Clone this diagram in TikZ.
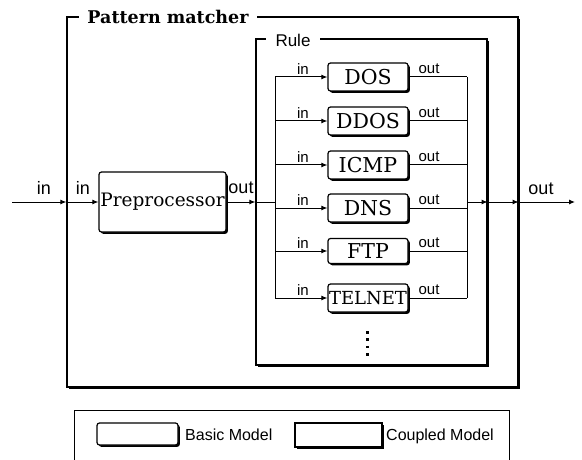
\documentclass[tikz,border=0pt]{standalone}
\usepackage{fontspec}
\setmainfont{DejaVu Serif}
\newfontfamily\portfont{Liberation Sans}
\usetikzlibrary{arrows.meta,shadows}

\begin{document}
\begin{tikzpicture}[x=1pt,y=-1pt,
  ink/.style={line width=1.2pt},
  shadowed/.style={drop shadow={shadow xshift=1.8pt,shadow yshift=-1.8pt,opacity=1,fill=black}},
  atomic/.style={draw, ink, fill=white, shadowed, rounded corners=2.5pt,
    minimum width=80pt, minimum height=28pt, inner sep=0pt,
    font=\fontsize{20.5}{20.5}\selectfont},
  coupled/.style={draw, ink, fill=white, shadowed, inner sep=0pt},
  heading/.style={fill=white, inner xsep=9pt, inner ysep=2pt},
  port/.style={font=\portfont\fontsize{15}{15}\selectfont, inner sep=0pt},
  bigport/.style={font=\portfont\fontsize{18}{18}\selectfont, inner sep=0pt},
  legendtext/.style={font=\portfont\fontsize{16}{16}\selectfont, inner sep=0pt, anchor=west},
  wire/.style={line width=1pt},
  flow/.style={wire, -{Latex[length=6pt,width=5pt]}},
]
\useasboundingbox (0,0) rectangle (582,460);

% coupled model: pattern matcher
\node[coupled, minimum width=451pt, minimum height=370pt] (pm) at (292.5,202) {};
\node[heading, font=\bfseries\fontsize{17.5}{17.5}\selectfont, inner xsep=8pt] (pmtitle) at (168,17) {Pattern matcher};

% coupled model: rule set
\node[coupled, minimum width=231pt, minimum height=326pt] (rule) at (371.5,202) {};
\node[heading, font=\portfont\fontsize{17}{17}\selectfont, inner xsep=10pt] (ruletitle) at (293,40) {Rule};

% basic models
\node[atomic, minimum width=127pt, minimum height=60pt, font=\fontsize{18.5}{18.5}\selectfont] (pre) at (162.5,202) {Preprocessor};
\node[atomic] (dos)    at (368,77)  {DOS};
\node[atomic] (ddos)   at (368,121) {DDOS};
\node[atomic] (icmp)   at (368,165) {ICMP};
\node[atomic] (dns)    at (368,208) {DNS};
\node[atomic, minimum height=25pt] (ftp) at (368,251) {FTP};
\node[atomic, font=\fontsize{18}{18}\selectfont] (telnet) at (368,298) {TELNET};

% more rules
\foreach \k in {0,...,3}
  \fill (366,331+7.3*\k) rectangle ++(2.8,2.8);

% external couplings and buses
\coordinate (src) at (12,202);
\coordinate (snk) at (575,202);
\coordinate (ib) at (275,202);
\coordinate (ob) at (467,202);

\draw[flow] (src) -- (pm.west);
\draw[flow] (pm.west) -- (pre.west);
\draw[flow] (pre.east) -- (rule.west);
\draw[wire] (rule.west) -- (ib);
\draw[wire] (dos.west -| ib) -- (telnet.west -| ib);
\draw[wire] (dos.east -| ob) -- (telnet.east -| ob);
\foreach \b in {dos,ddos,icmp,dns,ftp,telnet}{
  \draw[flow] (\b.west -| ib) -- (\b.west);
  \draw[wire] (\b.east) -- (\b.east -| ob);
}
\draw[flow] (ob) -- (rule.east);
\draw[flow] (rule.east) -- (pm.east);
\draw[flow] (pm.east) -- (snk);

% port labels
\node[bigport] (pmin)   at (44,188)  {in};
\node[bigport] (prein)  at (83,188)  {in};
\node[bigport] (preout) at (241,188) {out};
\node[bigport] (pmout)  at (541,189) {out};
\foreach \b/\y in {dos/77,ddos/121,icmp/165,dns/208,ftp/251,telnet/298}{
  \node[port] (\b in)  at (303,\y-8) {in};
  \node[port] (\b out) at (429,\y-8) {out};
}

% legend
\draw[wire] (74,460) -- (74,410) -- (509,410) -- (509,460);
\node[atomic, minimum width=81pt, minimum height=22pt] (keybasic) at (137.5,434) {};
\node[legendtext] (keybasictext) at (185,435) {Basic Model};
\node[coupled, minimum width=87pt, minimum height=24pt] (keycoupled) at (338.5,435) {};
\node[legendtext] (keycoupledtext) at (386,436) {Coupled Model};
\end{tikzpicture}
\end{document}
